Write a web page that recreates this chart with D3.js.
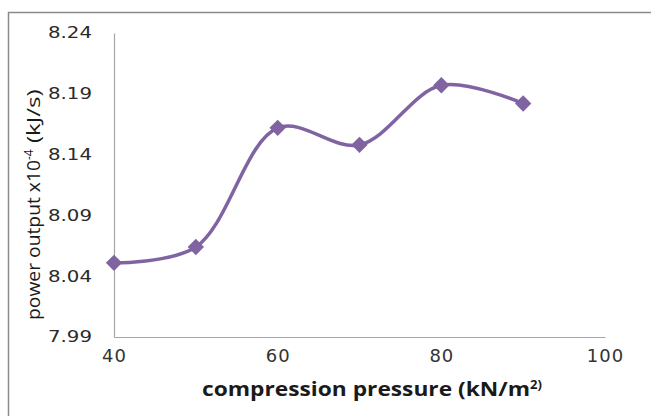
<!DOCTYPE html>
<html>
<head>
<meta charset="utf-8">
<script src="https://cdn.jsdelivr.net/npm/d3@7"></script>
<style>
  body { margin: 0; background: #fff; }
  svg { display: block; }
</style>
</head>
<body>
<svg class="canvas" width="651" height="416"></svg>
<script>
const pressure = [40, 50, 60, 70, 80, 90];
const power = [8.051, 8.064, 8.162, 8.148, 8.197, 8.182];
const xTicks = [40, 60, 80, 100];
const yTicks = [7.99, 8.04, 8.09, 8.14, 8.19, 8.24];

const canvas = d3.select('.canvas');
const lineColor = '#8064a2';

// outer frame (only top and left edges are in view)
canvas.append('path')
    .attr('d', 'M8.5,416 V12.5 H651')
    .attr('fill', 'none')
    .attr('stroke', '#8a8a8a')
    .attr('stroke-width', 1.5);

const x = d3.scaleLinear().domain([40, 100]).range([114, 605]);
const y = d3.scaleLinear().domain([7.99, 8.24]).range([337, 33]);

const xAxis = d3.axisBottom(x).tickValues(xTicks).tickSize(0).tickPadding(12);
const yAxis = d3.axisLeft(y).tickValues(yTicks).tickSize(0).tickPadding(22)
    .tickFormat(d3.format('.2f'));

canvas.append('g')
    .attr('transform', `translate(0, ${y(7.99)})`)
    .call(xAxis)
    .call(g => g.select('.domain').attr('stroke', '#a6a6a6').attr('stroke-width', 1.2))
    .call(g => g.selectAll('text')
        .attr('font-family', 'DejaVu Sans')
        .attr('font-size', 18)
        .attr('letter-spacing', 1)
        .attr('fill', '#333'));

canvas.append('g')
    .attr('transform', `translate(${x(40)}, 0)`)
    .call(yAxis)
    .call(g => g.select('.domain').attr('stroke', '#a6a6a6').attr('stroke-width', 1.2))
    .call(g => g.selectAll('text')
        .attr('font-family', 'DejaVu Sans')
        .attr('font-size', 15)
        .attr('textLength', 44)
        .attr('lengthAdjust', 'spacingAndGlyphs')
        .attr('fill', '#2a2a2a'));

const points = pressure.map((p, i) => ({ p, v: power[i] }));

canvas.append('path')
    .datum(points)
    .attr('fill', 'none')
    .attr('stroke', lineColor)
    .attr('stroke-width', 3.5)
    .attr('d', d3.line()
        .x(d => x(d.p))
        .y(d => y(d.v))
        .curve(d3.curveCatmullRom.alpha(0.5)));

canvas.selectAll('.marker')
    .data(points)
    .enter()
    .append('path')
    .attr('class', 'marker')
    .attr('d', d3.symbol(d3.symbolDiamond2, 170))
    .attr('transform', d => `translate(${x(d.p)}, ${y(d.v)})`)
    .attr('fill', lineColor);

// axis titles
const xLabel = canvas.append('text')
    .attr('x', 202)
    .attr('y', 396)
    .attr('font-family', 'Open Sans')
    .attr('font-weight', 'bold')
    .attr('font-size', 19)
    .attr('fill', '#1a1a1a');
xLabel.append('tspan')
    .attr('textLength', 328)
    .attr('lengthAdjust', 'spacingAndGlyphs')
    .text('compression pressure (kN/m');
xLabel.append('tspan')
    .attr('dy', -7)
    .attr('font-size', 13)
    .text('2)');

const yLabel = canvas.append('text')
    .attr('transform', 'translate(40, 320) rotate(-90)')
    .attr('font-family', 'Open Sans')
    .attr('font-size', 18)
    .attr('fill', '#1a1a1a');
yLabel.append('tspan')
    .attr('textLength', 160)
    .attr('lengthAdjust', 'spacingAndGlyphs')
    .text('power output x10');
yLabel.append('tspan').attr('dy', -7).attr('font-size', 12).text('-4');
yLabel.append('tspan')
    .attr('dy', 7)
    .attr('textLength', 60)
    .attr('lengthAdjust', 'spacingAndGlyphs')
    .text(' (kJ/s)');
</script>
</body>
</html>
